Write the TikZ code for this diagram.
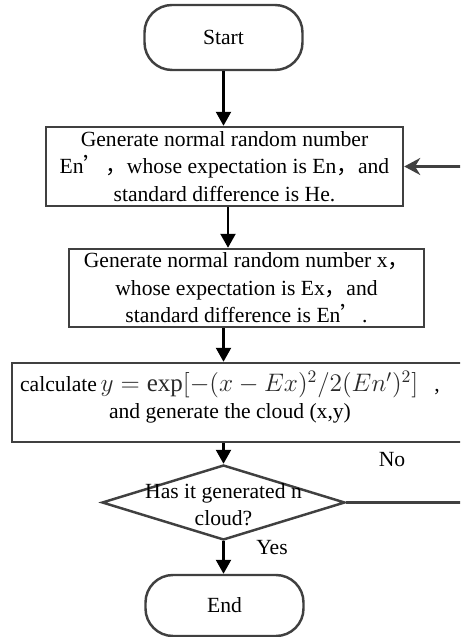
\documentclass[tikz,border=0pt]{standalone}
\usepackage{fontspec}
\setmainfont{Liberation Serif}
\newfontfamily\cjk{Noto Sans CJK SC}
\usetikzlibrary{shapes.geometric,arrows.meta}
\definecolor{Frame}{HTML}{404040}
\definecolor{Formula}{HTML}{2A2A2A}

\begin{document}
\begin{tikzpicture}[every node/.style={font=\fontsize{12.3}{15.6}\selectfont,text=black},frame/.style={draw=Frame,line width=1.4pt},stepbox/.style={frame,rectangle,inner sep=0pt,align=center},term/.style={frame,rectangle,rounded corners=0.55cm,minimum width=3.16cm},flow/.style={draw=black,line width=1.3pt,-{Triangle[length=0.28cm,width=0.3cm]}},back/.style={draw=Frame,line width=1.5pt,-{Stealth[length=0.32cm,width=0.34cm]}}]
\clip (0,0) rectangle (9.2,12.74);
\fill[white] (0,0) rectangle (9.2,12.74);

\node[term,minimum height=1.3cm] (start) at (4.47,11.99) {Start};
\node[stepbox,minimum width=7.14cm,minimum height=1.58cm] (gen1) at (4.49,9.41) {Generate normal random number\\En{\cjk ’，}whose expectation is En{\cjk ，}and\\standard difference is He.};
\node[stepbox,minimum width=7.1cm,minimum height=1.56cm] (gen2) at (4.93,6.98) {Generate normal random number x{\cjk ，}\\whose expectation is Ex{\cjk ，}and\\standard difference is En{\cjk ’}.};
\node[stepbox,minimum width=9.26cm,minimum height=1.58cm] (calc) at (4.87,4.69) {};
\node[align=center] (calctext) at (4.6,4.8) {calculate\,{\fontsize{14.2}{15.6}\selectfont\color{Formula}$y=\exp[-(x-Ex)^2/2(En')^2]$}\ \ \ ,\\and generate the cloud (x,y)};
\node[frame,diamond,inner sep=0pt,minimum width=4.86cm,minimum height=1.5cm] (check) at (4.47,2.69) {};
\node[align=center] (checktext) at (4.47,2.65) {Has it generated n\\cloud?};
\node[term,minimum height=1.22cm] (end) at (4.49,0.63) {End};
\node (no) at (7.84,3.54) {No};\node (yes) at (5.44,1.78) {Yes};
\coordinate (turn) at (9.45,2.69);

\draw[flow] (start.south) -- (start.south |- gen1.north);
\draw[flow] ([xshift=0.07cm]gen1.south) -- ([xshift=0.07cm]gen1.south |- gen2.north);
\draw[flow] (gen2.south -| start) -- (calc.north -| start);
\draw[flow] (calc.south -| check) -- (check.north);
\draw[flow] (check.south) -- (check.south |- end.north);
\draw[back] (check.east) -- (turn) |- (gen1.east);
\end{tikzpicture}
\end{document}
